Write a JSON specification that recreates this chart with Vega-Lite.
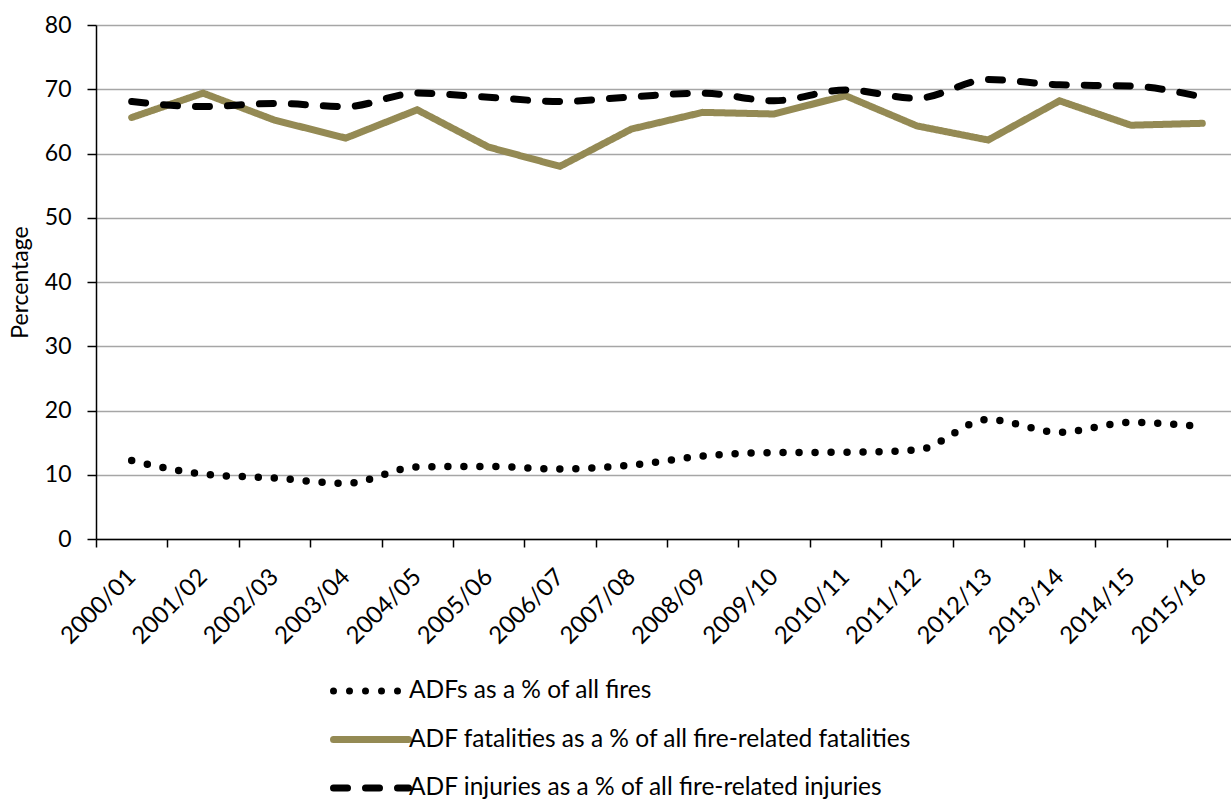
{
  "$schema": "https://vega.github.io/schema/vega-lite/v6.json",
  "autosize": {"type": "none"},
  "padding": {"left": 96, "top": 25, "right": 0, "bottom": 261},
  "width": 1135,
  "height": 514,
  "config": {
    "view": {"stroke": null},
    "font": "Lato",
    "axis": {"labelFont": "Lato", "titleFont": "Lato", "labelColor": "#000", "titleColor": "#000"},
    "legend": {"labelFont": "Lato"}
  },
  "data": {
    "values": [
      {"year": "2000/01", "series": "ADFs as a % of all fires", "value": 12.2},
      {"year": "2001/02", "series": "ADFs as a % of all fires", "value": 10.1},
      {"year": "2002/03", "series": "ADFs as a % of all fires", "value": 9.5},
      {"year": "2003/04", "series": "ADFs as a % of all fires", "value": 8.65},
      {"year": "2004/05", "series": "ADFs as a % of all fires", "value": 11.2},
      {"year": "2005/06", "series": "ADFs as a % of all fires", "value": 11.3},
      {"year": "2006/07", "series": "ADFs as a % of all fires", "value": 10.9},
      {"year": "2007/08", "series": "ADFs as a % of all fires", "value": 11.5},
      {"year": "2008/09", "series": "ADFs as a % of all fires", "value": 12.9},
      {"year": "2009/10", "series": "ADFs as a % of all fires", "value": 13.45},
      {"year": "2010/11", "series": "ADFs as a % of all fires", "value": 13.5},
      {"year": "2011/12", "series": "ADFs as a % of all fires", "value": 13.85},
      {"year": "2012/13", "series": "ADFs as a % of all fires", "value": 18.6},
      {"year": "2013/14", "series": "ADFs as a % of all fires", "value": 16.6},
      {"year": "2014/15", "series": "ADFs as a % of all fires", "value": 18.15},
      {"year": "2015/16", "series": "ADFs as a % of all fires", "value": 17.5},
      {"year": "2000/01", "series": "ADF fatalities as a % of all fire-related fatalities", "value": 65.6},
      {"year": "2001/02", "series": "ADF fatalities as a % of all fire-related fatalities", "value": 69.4},
      {"year": "2002/03", "series": "ADF fatalities as a % of all fire-related fatalities", "value": 65.2},
      {"year": "2003/04", "series": "ADF fatalities as a % of all fire-related fatalities", "value": 62.4},
      {"year": "2004/05", "series": "ADF fatalities as a % of all fire-related fatalities", "value": 66.8},
      {"year": "2005/06", "series": "ADF fatalities as a % of all fire-related fatalities", "value": 61.0},
      {"year": "2006/07", "series": "ADF fatalities as a % of all fire-related fatalities", "value": 58.0},
      {"year": "2007/08", "series": "ADF fatalities as a % of all fire-related fatalities", "value": 63.8},
      {"year": "2008/09", "series": "ADF fatalities as a % of all fire-related fatalities", "value": 66.4},
      {"year": "2009/10", "series": "ADF fatalities as a % of all fire-related fatalities", "value": 66.15},
      {"year": "2010/11", "series": "ADF fatalities as a % of all fire-related fatalities", "value": 69.0},
      {"year": "2011/12", "series": "ADF fatalities as a % of all fire-related fatalities", "value": 64.3},
      {"year": "2012/13", "series": "ADF fatalities as a % of all fire-related fatalities", "value": 62.1},
      {"year": "2013/14", "series": "ADF fatalities as a % of all fire-related fatalities", "value": 68.2},
      {"year": "2014/15", "series": "ADF fatalities as a % of all fire-related fatalities", "value": 64.4},
      {"year": "2015/16", "series": "ADF fatalities as a % of all fire-related fatalities", "value": 64.7},
      {"year": "2000/01", "series": "ADF injuries as a % of all fire-related injuries", "value": 68.1},
      {"year": "2001/02", "series": "ADF injuries as a % of all fire-related injuries", "value": 67.3},
      {"year": "2002/03", "series": "ADF injuries as a % of all fire-related injuries", "value": 67.8},
      {"year": "2003/04", "series": "ADF injuries as a % of all fire-related injuries", "value": 67.3},
      {"year": "2004/05", "series": "ADF injuries as a % of all fire-related injuries", "value": 69.4},
      {"year": "2005/06", "series": "ADF injuries as a % of all fire-related injuries", "value": 68.75},
      {"year": "2006/07", "series": "ADF injuries as a % of all fire-related injuries", "value": 68.1},
      {"year": "2007/08", "series": "ADF injuries as a % of all fire-related injuries", "value": 68.8},
      {"year": "2008/09", "series": "ADF injuries as a % of all fire-related injuries", "value": 69.4},
      {"year": "2009/10", "series": "ADF injuries as a % of all fire-related injuries", "value": 68.2},
      {"year": "2010/11", "series": "ADF injuries as a % of all fire-related injuries", "value": 69.9},
      {"year": "2011/12", "series": "ADF injuries as a % of all fire-related injuries", "value": 68.6},
      {"year": "2012/13", "series": "ADF injuries as a % of all fire-related injuries", "value": 71.5},
      {"year": "2013/14", "series": "ADF injuries as a % of all fire-related injuries", "value": 70.7},
      {"year": "2014/15", "series": "ADF injuries as a % of all fire-related injuries", "value": 70.5},
      {"year": "2015/16", "series": "ADF injuries as a % of all fire-related injuries", "value": 68.8}
    ]
  },
  "encoding": {
    "x": {
      "field": "year", "type": "nominal", "sort": null, "bandPosition": 0.5,
      "scale": {"type": "band", "range": [0, 1142], "paddingInner": 0, "paddingOuter": 0},
      "axis": {"title": null, "labelAngle": -45, "labelFontSize": 24, "labelAlign": "right", "labelBaseline": "middle",
               "labelPadding": 26, "domainColor": "#000", "domainWidth": 1.5, "tickColor": "#000", "tickWidth": 1.5,
               "tickSize": 8, "tickBand": "extent", "grid": false, "labelOverlap": false}
    },
    "y": {
      "field": "value", "type": "quantitative",
      "scale": {"domain": [0, 80], "nice": false, "zero": true},
      "axis": {"values": [0, 10, 20, 30, 40, 50, 60, 70, 80], "title": "Percentage", "titleFontSize": 23,
               "titleFontWeight": "normal", "titlePadding": 12, "labelFontSize": 23, "labelPadding": 16,
               "domainColor": "#000", "domainWidth": 1.5, "tickColor": "#000", "tickWidth": 1.5, "tickSize": 9,
               "grid": true, "gridColor": "#a6a6a6", "gridWidth": 1.5}
    },
    "color": {
      "field": "series", "type": "nominal",
      "scale": {"domain": ["ADFs as a % of all fires", "ADF fatalities as a % of all fire-related fatalities", "ADF injuries as a % of all fire-related injuries"],
                "range": ["#000000", "#948a54", "#000000"]},
      "legend": {"title": null, "orient": "none", "legendX": 234, "legendY": 651, "direction": "vertical",
                 "symbolType": "stroke", "symbolSize": 5625, "symbolStrokeWidth": 7, "labelFontSize": 24.5, "labelColor": "#000",
                 "labelOffset": -3, "rowPadding": 18.5, "clipHeight": 30, "labelLimit": 1000,
                 "encode": {"symbols": {"update": {"strokeCap": {"value": "round"}}}}}
    },
    "strokeDash": {
      "field": "series", "type": "nominal",
      "scale": {"domain": ["ADFs as a % of all fires", "ADF fatalities as a % of all fire-related fatalities", "ADF injuries as a % of all fire-related injuries"],
                "range": [[0, 16], [1, 0], [14, 18]]},
      "legend": {"title": null, "orient": "none", "legendX": 234, "legendY": 651, "direction": "vertical",
                 "symbolType": "stroke", "symbolSize": 5625, "symbolStrokeWidth": 7, "labelFontSize": 24.5, "labelColor": "#000",
                 "labelOffset": -3, "rowPadding": 18.5, "clipHeight": 30, "labelLimit": 1000,
                 "encode": {"symbols": {"update": {"strokeCap": {"value": "round"}}}}}
    }
  },
  "layer": [
    {"transform": [{"filter": "datum.series === 'ADFs as a % of all fires'"}],
     "mark": {"type": "line", "strokeWidth": 7.5, "strokeCap": "round", "interpolate": "monotone", "clip": false}},
    {"transform": [{"filter": "datum.series === 'ADF fatalities as a % of all fire-related fatalities'"}],
     "mark": {"type": "line", "strokeWidth": 7, "strokeCap": "round", "interpolate": "linear", "clip": false}},
    {"transform": [{"filter": "datum.series === 'ADF injuries as a % of all fire-related injuries'"}],
     "mark": {"type": "line", "strokeWidth": 7, "strokeCap": "round", "interpolate": "monotone", "clip": false}}
  ]
}
